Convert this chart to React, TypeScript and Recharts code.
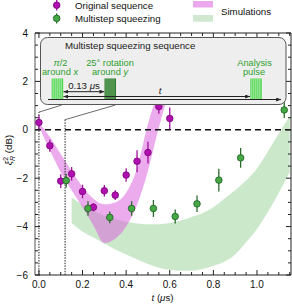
import React from "react";
import { ComposedChart, Area, Scatter, ErrorBar, XAxis, YAxis, ReferenceLine } from "recharts";

const FONT = "'Liberation Sans', Arial, sans-serif";

// measured points: original sequence
const origT = [0, 0.05, 0.1, 0.15, 0.2, 0.25, 0.3, 0.35, 0.4, 0.45, 0.5, 0.55, 0.6];
const origXi = [0.3, -0.66, -2.12, -1.82, -2.55, -3.2, -2.52, -2.7, -1.87, -1.3, -0.94, 0.96, 0.47];
const origErr = [0.3, 0.25, 0.28, 0.28, 0.28, 0.17, 0.24, 0.2, 0.28, 0.45, 0.45, 0.3, 0.45];

// measured points: multistep squeezing
const multiT = [0.125, 0.225, 0.325, 0.425, 0.525, 0.625, 0.725, 0.825, 0.925, 1.125];
const multiXi = [-2.1, -3.25, -3.62, -3.25, -3.25, -3.58, -3.06, -2.08, -1.16, 0.82];
const multiErr = [0.28, 0.3, 0.24, 0.3, 0.35, 0.29, 0.34, 0.47, 0.41, 0.33];

// simulation bands (the magenta one leaves the frame behind the inset)
const origSimT = [0, 0.05, 0.1, 0.15, 0.2, 0.25, 0.3, 0.35, 0.4, 0.45, 0.5, 0.55, 0.6, 0.65];
const origSimLow = [0.15, -0.85, -1.75, -2.5, -3.2, -3.95, -4.68, -4.5, -4.0, -3.1, -1.7, 0.1, 1.6, 2.8];
const origSimHigh = [0.3, -0.3, -1.0, -1.7, -2.35, -2.85, -3.08, -3.0, -2.6, -1.6, 0.25, 1.6, 2.7, 3.9];

const multiSimT = [0.15, 0.2, 0.25, 0.3, 0.35, 0.4, 0.45, 0.5, 0.55, 0.6, 0.65, 0.7, 0.75, 0.8, 0.85, 0.9, 0.95, 1.0, 1.05, 1.1, 1.15];
const multiSimLow = [-3.85, -4.2, -4.45, -4.7, -4.95, -5.15, -5.35, -5.55, -5.7, -5.78, -5.82, -5.82, -5.75, -5.62, -5.45, -5.15, -4.65, -4.1, -3.4, -2.6, -1.75];
const multiSimHigh = [-2.8, -3.1, -3.35, -3.55, -3.7, -3.8, -3.87, -3.9, -3.9, -3.85, -3.75, -3.6, -3.45, -3.2, -2.85, -2.5, -2.1, -1.6, -0.9, -0.15, 0.55];

// ticks
const xTicks = [0, 0.05, 0.1, 0.15, 0.2, 0.25, 0.3, 0.35, 0.4, 0.45, 0.5, 0.55, 0.6, 0.65, 0.7, 0.75, 0.8, 0.85, 0.9, 0.95, 1.0, 1.05, 1.1, 1.15];
const xMajor = [0, 0.2, 0.4, 0.6, 0.8, 1.0];
const xMajorLabels = ["0.0", "0.2", "0.4", "0.6", "0.8", "1.0"];
const yTicks = [-6, -5.5, -5, -4.5, -4, -3.5, -3, -2.5, -2, -1.5, -1, -0.5, 0, 0.5, 1, 1.5, 2, 2.5, 3, 3.5, 4];
const yMajor = [-6, -4, -2, 0, 2, 4];
const yMajorLabels = ["\u22126", "\u22124", "\u22122", "0", "2", "4"];

const X_DOMAIN = [-0.018, 1.156];
const Y_DOMAIN = [-6, 4];

const origPts = origT.map((t, i) => ({ t, xi: origXi[i], err: origErr[i] }));
const multiPts = multiT.map((t, i) => ({ t, xi: multiXi[i], err: multiErr[i] }));

// one table for both bands, keyed by t
const bandT = Array.from(new Set([...origSimT, ...multiSimT])).sort((a, b) => a - b);
const bandData = bandT.map((t) => {
  const i = origSimT.indexOf(t);
  const j = multiSimT.indexOf(t);
  return {
    t,
    orig: i >= 0 ? [origSimLow[i], origSimHigh[i]] : null,
    multi: j >= 0 ? [multiSimLow[j], multiSimHigh[j]] : null,
  };
});

const majorIdx = (v: number, majors: number[]) => majors.findIndex((m) => Math.abs(m - v) < 1e-6);

const AX = "#222";
const layer: React.CSSProperties = { position: "absolute", left: 0, top: 0 };

function BottomTick(p: any) {
  const i = majorIdx(p.payload.value, xMajor);
  return (
    <g>
      <line x1={p.x} x2={p.x} y1={p.y} y2={p.y - (i >= 0 ? 5 : 3)} stroke={AX} />
      {i >= 0 && (
        <text x={p.x} y={p.y + 12.5} textAnchor="middle" fontSize={10} fill="#111" fontFamily={FONT}>
          {xMajorLabels[i]}
        </text>
      )}
    </g>
  );
}

function TopTick(p: any) {
  const i = majorIdx(p.payload.value, xMajor);
  return <line x1={p.x} x2={p.x} y1={p.y} y2={p.y + (i >= 0 ? 5 : 3)} stroke={AX} />;
}

function LeftTick(p: any) {
  const i = majorIdx(p.payload.value, yMajor);
  return (
    <g>
      <line x1={p.x} x2={p.x + (i >= 0 ? 5 : 3)} y1={p.y} y2={p.y} stroke={AX} />
      {i >= 0 && (
        <text x={p.x - 7} y={p.y + 3.5} textAnchor="end" fontSize={10} fill="#111" fontFamily={FONT}>
          {yMajorLabels[i]}
        </text>
      )}
    </g>
  );
}

function RightTick(p: any) {
  const i = majorIdx(p.payload.value, yMajor);
  return <line x1={p.x} x2={p.x - (i >= 0 ? 5 : 3)} y1={p.y} y2={p.y} stroke={AX} />;
}

const dot = (fill: string, stroke: string) => (p: any) =>
  <circle cx={p.cx} cy={p.cy} r={3.3} fill={fill} stroke={stroke} strokeWidth={0.8} />;

function Pulse({ x, fill, stripe }: { x: number; fill: string; stripe: string }) {
  const lines = [];
  for (let k = 1; k < 11; k += 2) {
    lines.push(<line key={k} x1={x + k + 0.5} x2={x + k + 0.5} y1={78.5} y2={99.5} stroke={stripe} strokeWidth={0.7} />);
  }
  return (
    <g>
      <rect x={x} y={78.5} width={11.5} height={21} fill={fill} />
      {lines}
    </g>
  );
}

// bands and guide lines (drawn underneath, no clipping needed)
function BandLayer() {
  return (
    <ComposedChart width={292} height={304} data={bandData} margin={{ top: 33, right: 1, bottom: 29, left: 35 }}>
      <XAxis type="number" dataKey="t" domain={X_DOMAIN} hide />
      <YAxis type="number" domain={Y_DOMAIN} hide />
      <Area dataKey="multi" type="monotone" stroke="none" fill="#a8d8a8" fillOpacity={0.6} isAnimationActive={false} />
      <Area dataKey="orig" type="monotone" stroke="none" fill="#dd66dd" fillOpacity={0.55} isAnimationActive={false} />
      <ReferenceLine y={0} stroke="#111" strokeWidth={1.5} strokeDasharray="6 4" />
      <ReferenceLine segment={[{ x: 0, y: -6 }, { x: 0, y: 0.73 }]} stroke="#222" strokeDasharray="1.5 1.2" ifOverflow="visible" />
      <ReferenceLine segment={[{ x: 0, y: 0.73 }, { x: 0.104, y: 1.02 }]} stroke="#444" strokeWidth={0.8} ifOverflow="visible" />
      <ReferenceLine segment={[{ x: 0.12, y: -6 }, { x: 0.12, y: 0.42 }]} stroke="#222" strokeDasharray="1.5 1.2" ifOverflow="visible" />
      <ReferenceLine segment={[{ x: 0.12, y: 0.42 }, { x: 0.35, y: 1.02 }]} stroke="#444" strokeWidth={0.8} ifOverflow="visible" />
    </ComposedChart>
  );
}

// frame, ticks and measured points
function PointLayer() {
  return (
    <ComposedChart width={292} height={304} margin={{ top: 32, right: 0, bottom: 28, left: 34 }}>
      <XAxis type="number" dataKey="t" domain={X_DOMAIN} allowDataOverflow ticks={xTicks} interval={0}
        tick={BottomTick} tickLine={false} tickSize={0} tickMargin={0} height={1} axisLine={{ stroke: AX }} />
      <XAxis xAxisId="top" orientation="top" type="number" dataKey="t" domain={X_DOMAIN} allowDataOverflow
        ticks={xTicks} interval={0} tick={TopTick} tickLine={false} tickSize={0} tickMargin={0} height={1} axisLine={{ stroke: AX }} />
      <YAxis type="number" domain={Y_DOMAIN} allowDataOverflow ticks={yTicks} interval={0}
        tick={LeftTick} tickLine={false} tickSize={0} tickMargin={0} width={1} axisLine={{ stroke: "#555" }} />
      <YAxis yAxisId="right" orientation="right" type="number" domain={Y_DOMAIN} allowDataOverflow ticks={yTicks}
        interval={0} tick={RightTick} tickLine={false} tickSize={0} tickMargin={0} width={1} axisLine={{ stroke: AX }} />
      <Scatter data={origPts} dataKey="xi" shape={dot("#b010b0", "#7a007a")} isAnimationActive={false}>
        <ErrorBar dataKey="err" direction="y" width={0} stroke="#a010a0" strokeWidth={1.3} />
      </Scatter>
      <Scatter data={multiPts} dataKey="xi" shape={dot("#45a845", "#1b5e20")} isAnimationActive={false}>
        <ErrorBar dataKey="err" direction="y" width={0} stroke="#2e6b2e" strokeWidth={1.3} />
      </Scatter>
    </ComposedChart>
  );
}

export default function App() {
  const green = "#2ea02e";
  return (
    <div style={{ position: "absolute", left: 0, top: 0, width: 292, height: 304, background: "#fff" }}>
      <div style={layer}><BandLayer /></div>
      <div style={layer}><PointLayer /></div>

      <svg width={292} height={304} style={{ ...layer, pointerEvents: "none" }} fontFamily={FONT}>
        <defs>
          <marker id="ah" viewBox="0 0 6 5" refX="6" refY="2.5" markerWidth="5" markerHeight="4" orient="auto-start-reverse">
            <path d="M0,0 L6,2.5 L0,5 z" fill="#222" />
          </marker>
        </defs>

        {/* legend */}
        <line x1={56.7} x2={56.7} y1={0} y2={10.5} stroke="#a010a0" strokeWidth={1.3} />
        <circle cx={56.7} cy={5.2} r={3.3} fill="#b010b0" stroke="#7a007a" strokeWidth={0.8} />
        <text x={75} y={8.6} fontSize={9.7} fill="#111">Original sequence</text>
        <line x1={56.7} x2={56.7} y1={13.5} y2={23.5} stroke="#2e6b2e" strokeWidth={1.3} />
        <circle cx={56.7} cy={18.4} r={3.3} fill="#45a845" stroke="#1b5e20" strokeWidth={0.8} />
        <text x={75} y={21.8} fontSize={9.7} fill="#111">Multistep squeezing</text>
        <rect x={193} y={1} width={20} height={6.5} fill="#eca8ec" />
        <rect x={193} y={15} width={20} height={6.7} fill="#cfe8cf" />
        <text x={221} y={15} fontSize={9.7} fill="#111">Simulations</text>

        {/* inset */}
        <rect x={40.5} y={37.5} width={245.5} height={67} rx={7} fill="#eeeeee" stroke="#555" strokeWidth={1} />
        <text x={65} y={48.7} fontSize={9.7} fill="#222">Multistep squeezing sequence</text>
        <text x={60.5} y={66.3} fontSize={9.3} fill={green} textAnchor="middle"><tspan fontStyle="italic">π</tspan>/2</text>
        <text x={60} y={75.3} fontSize={9.3} fill={green} textAnchor="middle">around <tspan fontStyle="italic">x</tspan></text>
        <text x={110} y={66.3} fontSize={9.3} fill={green} textAnchor="middle">25° rotation</text>
        <text x={110} y={75.3} fontSize={9.3} fill={green} textAnchor="middle">around <tspan fontStyle="italic">y</tspan></text>
        <text x={254.5} y={66.3} fontSize={9.3} fill={green} textAnchor="middle">Analysis</text>
        <text x={254} y={75.3} fontSize={9.3} fill={green} textAnchor="middle">pulse</text>
        <Pulse x={51.7} fill="#55d655" stripe="#c8f5c8" />
        <Pulse x={104.5} fill="#2f7a2f" stripe="#8cc88c" />
        <Pulse x={250.3} fill="#55d655" stripe="#c8f5c8" />
        <line x1={48} y1={99.5} x2={281} y2={99.5} stroke="#222" strokeWidth={1} markerEnd="url(#ah)" />
        <line x1={63.5} y1={91.7} x2={104.3} y2={91.7} stroke="#222" strokeWidth={1} markerStart="url(#ah)" markerEnd="url(#ah)" />
        <line x1={63.5} y1={96.5} x2={250} y2={96.5} stroke="#222" strokeWidth={1} markerStart="url(#ah)" markerEnd="url(#ah)" />
        <text x={84} y={89} fontSize={9.7} fill="#222" textAnchor="middle">0.13 <tspan fontStyle="italic">μ</tspan>s</text>
        <text x={160} y={94} fontSize={9.7} fill="#222" textAnchor="middle" fontStyle="italic">t</text>

        {/* axis titles */}
        <text transform="rotate(-90 9 150)" x={9} y={153} fontSize={9.7} fill="#111" textAnchor="middle">
          <tspan fontStyle="italic">ξ</tspan>
          <tspan fontSize={7} dy={-4}>2</tspan>
          <tspan fontSize={7} dx={-4} dy={7} fontStyle="italic">R</tspan>
          <tspan dy={-3}> (dB)</tspan>
        </text>
        <text x={162.5} y={300.5} fontSize={9.7} fill="#111" textAnchor="middle">
          <tspan fontStyle="italic">t</tspan> (<tspan fontStyle="italic">μ</tspan>s)
        </text>
      </svg>
    </div>
  );
}
